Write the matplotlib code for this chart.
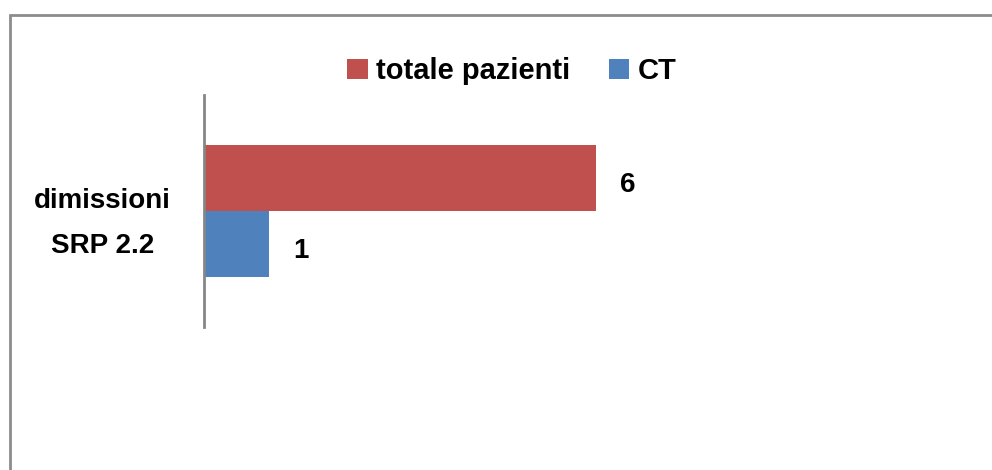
import matplotlib
matplotlib.use("Agg")
import matplotlib.pyplot as plt
from matplotlib.patches import Rectangle

categories = ["dimissioni\nSRP 2.2"]
series_names = ["totale pazienti", "CT"]
totale_pazienti = [6]
ct = [1]

plt.rcParams['font.family'] = ['Liberation Sans Narrow', 'Liberation Sans', 'DejaVu Sans']
plt.rcParams['font.weight'] = 'bold'

W, H = 992, 470
fig = plt.figure(figsize=(W / 100, H / 100), dpi=100)
ax = fig.add_axes([204 / W, 143 / H, 784 / W, 232 / H])

red = '#C0504D'
blue = '#4F81BD'
h = 0.284
ys = list(range(len(categories)))
b1 = ax.barh([y + h / 2 for y in ys], totale_pazienti, height=h, color=red, label=series_names[0])
b2 = ax.barh([y - h / 2 for y in ys], ct, height=h, color=blue, label=series_names[1])
for bars in (b1, b2):
    anns = ax.bar_label(bars, padding=17, fontsize=20, fontweight='bold')
    for a in anns:
        a.xyann = (17, -5)

ax.set_xlim(0, 12)
ax.set_ylim(-0.5, 0.5)
ax.set_xticks([])
ax.set_yticks(ys)
ax.set_yticklabels(categories, fontsize=20, fontweight='bold')
for lbl in ax.get_yticklabels():
    lbl.set_multialignment('center')
    lbl.set_linespacing(1.95)
ax.tick_params(axis='y', length=0, pad=24)
for s in ['top', 'right', 'bottom']:
    ax.spines[s].set_visible(False)
ax.spines['left'].set_color('#868686')
ax.spines['left'].set_linewidth(2)

fig.legend(loc='center', bbox_to_anchor=(512 / W, 1 - 71 / H), ncol=2, frameon=False,
           handlelength=0.7, handleheight=0.7, handletextpad=0.3,
           columnspacing=1.3, prop={'weight': 'bold', 'size': 21})

fig.patches.append(Rectangle((9.5 / W, -0.2), 1.5, 1.2 - 15 / H, transform=fig.transFigure,
                             fill=False, edgecolor='#8c8c8c', linewidth=2))

fig.savefig('out.png', dpi=100)
